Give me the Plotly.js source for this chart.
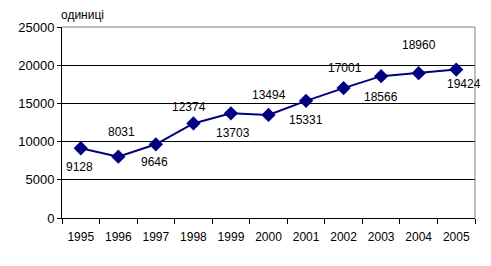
<!DOCTYPE html>
<html>
<head>
<meta charset="utf-8">
<script src="https://cdn.plot.ly/plotly-3.0.1.min.js"></script>
<style>html,body{margin:0;padding:0;background:#fff;}#chart{width:491px;height:266px;}</style>
</head>
<body>
<div id="chart"></div>
<script>
const years = ['1995','1996','1997','1998','1999','2000','2001','2002','2003','2004','2005'];
const values = [9128, 8031, 9646, 12374, 13703, 13494, 15331, 17001, 18566, 18960, 19424];
const yTicks = [0, 5000, 10000, 15000, 20000, 25000];
const unitLabel = 'одиниці';

// label offsets (style only): pixel shift of each data label
const labelShiftY = [-19, 25, -18, 16, -20, 20, -19, 20, -21, 28, -14];
const labelShiftX = [-1, 3, -1, -4, 2, 0, 0, 1, 0, 0, 8];

const font = 'Arial, "Liberation Sans", sans-serif';

const trace = {
  x: years, y: values, type: 'scatter', mode: 'lines+markers',
  line: {color: '#000080', width: 2},
  marker: {symbol: 'diamond', size: 11, color: '#000080'},
  cliponaxis: false, hoverinfo: 'none'
};

// category axis: annotation x given as category index
const annotations = years.map((yr, i) => ({
  x: i, y: values[i], xref: 'x', yref: 'y', text: String(values[i]),
  showarrow: false, yshift: labelShiftY[i], xshift: labelShiftX[i],
  font: {family: font, size: 12, color: '#000'}
}));
annotations.push({
  x: 0, y: 1, xref: 'paper', yref: 'paper', xanchor: 'left', yanchor: 'bottom',
  xshift: -3, yshift: 3, text: unitLabel, showarrow: false,
  font: {family: font, size: 12, color: '#000'}
});

const layout = {
  width: 491, height: 266,
  margin: {l: 62, r: 16, t: 27, b: 48},
  paper_bgcolor: '#fff', plot_bgcolor: '#fff',
  showlegend: false,
  font: {family: font, size: 12, color: '#000'},
  xaxis: {
    type: 'category', categoryorder: 'array', categoryarray: years,
    range: [-0.5, years.length - 0.5], autorange: false,
    tickson: 'boundaries', ticks: 'outside', ticklen: 5,
    tickcolor: '#000', showline: true, linecolor: '#000', linewidth: 1,
    showgrid: false, zeroline: false, fixedrange: true, tickangle: 0,
    ticklabelstandoff: 8,
    tickfont: {family: font, size: 12, color: '#000'}
  },
  yaxis: {
    range: [0, 25000], tickvals: yTicks, ticktext: yTicks.map(String),
    ticks: 'outside', ticklen: 4, tickcolor: '#000',
    showline: true, linecolor: '#000', linewidth: 1,
    showgrid: true, gridcolor: '#000', gridwidth: 1, zeroline: false,
    fixedrange: true,
    tickfont: {family: font, size: 13, color: '#000'}
  },
  shapes: [
    {type: 'line', xref: 'paper', yref: 'paper', x0: 0, x1: 1, y0: 1, y1: 1, line: {color: '#808080', width: 1}},
    {type: 'line', xref: 'paper', yref: 'paper', x0: 1, x1: 1, y0: 0, y1: 1, line: {color: '#808080', width: 1}}
  ],
  annotations: annotations
};

Plotly.newPlot('chart', [trace], layout, {displayModeBar: false, staticPlot: true});
</script>
</body>
</html>
